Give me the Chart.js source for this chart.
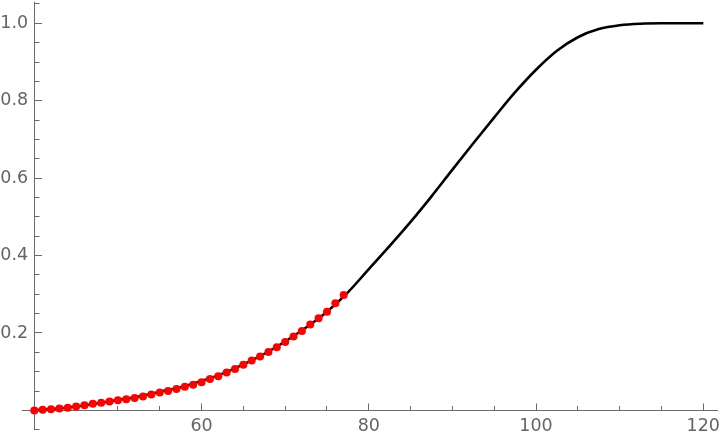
<!DOCTYPE html>
<html><head><meta charset="utf-8">
<script src="https://cdn.jsdelivr.net/npm/chart.js@4"></script>
<style>html,body{margin:0;padding:0;background:#fff;} #wrap{width:720px;height:440px;position:relative;}</style>
</head><body><div id="wrap"><canvas id="c" width="720" height="440"></canvas></div>
<script>
const curveX = [40, 42.5, 45, 47.5, 50, 52.5, 55, 57.5, 60, 62.5, 65, 67.5, 70, 72.5, 75, 77.5, 80, 82.5, 85, 87.5, 90, 92.5, 95, 97.5, 100, 102.5, 105, 107.5, 110, 112.5, 115, 117.5, 120];
const curveY = [0.000, 0.004, 0.010, 0.018, 0.027, 0.036, 0.048, 0.060, 0.076, 0.095, 0.119, 0.146, 0.178, 0.214, 0.255, 0.305, 0.365, 0.425, 0.487, 0.553, 0.622, 0.690, 0.757, 0.822, 0.880, 0.929, 0.964, 0.985, 0.995, 0.999, 1.000, 1.000, 1.000];
const pointX = [40, 41, 42, 43, 44, 45, 46, 47, 48, 49, 50, 51, 52, 53, 54, 55, 56, 57, 58, 59, 60, 61, 62, 63, 64, 65, 66, 67, 68, 69, 70, 71, 72, 73, 74, 75, 76, 77];
const pointY = [0.000, 0.002, 0.003, 0.005, 0.007, 0.010, 0.013, 0.017, 0.020, 0.023, 0.026, 0.029, 0.032, 0.036, 0.041, 0.046, 0.050, 0.055, 0.061, 0.066, 0.073, 0.081, 0.088, 0.098, 0.107, 0.118, 0.129, 0.139, 0.151, 0.163, 0.177, 0.191, 0.205, 0.222, 0.238, 0.255, 0.277, 0.298];
const xTickValues = [40, 60, 80, 100, 120];
const xTickLabels = ['', '60', '80', '100', '120'];
const xMinorTicks = [45, 50, 55, 65, 70, 75, 85, 90, 95, 105, 110, 115];
const yTickValues = [0, 0.2, 0.4, 0.6, 0.8, 1.0];
const yTickLabels = ['', '0.2', '0.4', '0.6', '0.8', '1.0'];
const yMinorTicks = [-0.05, 0.05, 0.1, 0.15, 0.25, 0.3, 0.35, 0.45, 0.5, 0.55, 0.65, 0.7, 0.75, 0.85, 0.9, 0.95, 1.05];
const xAxisExtent = [38.5, 121.76];
const yAxisExtent = [-0.051, 1.056];

const AXIS_COLOR = '#6a6a6a';
const axesPlugin = {
  id: 'mAxes',
  beforeDatasetsDraw(chart) {
    const {ctx, scales: {x, y}} = chart;
    const X = v => Math.floor(x.getPixelForValue(v)) + 0.5;
    const Y = v => Math.floor(y.getPixelForValue(v)) + 0.5;
    const x0 = X(40), y0 = Y(0);
    ctx.save();
    ctx.strokeStyle = AXIS_COLOR;
    ctx.lineWidth = 1;
    ctx.beginPath();
    ctx.moveTo(x.getPixelForValue(xAxisExtent[0]), y0); ctx.lineTo(x.getPixelForValue(xAxisExtent[1]), y0);
    ctx.moveTo(x0, y.getPixelForValue(yAxisExtent[1])); ctx.lineTo(x0, y.getPixelForValue(yAxisExtent[0]));
    xTickValues.forEach(v => { ctx.moveTo(X(v), y0); ctx.lineTo(X(v), y0 - 7); });
    xMinorTicks.forEach(v => { ctx.moveTo(X(v), y0); ctx.lineTo(X(v), y0 - 4.5); });
    yTickValues.forEach(v => { ctx.moveTo(x0, Y(v)); ctx.lineTo(x0 + 7.5, Y(v)); });
    yMinorTicks.forEach(v => { ctx.moveTo(x0, Y(v)); ctx.lineTo(x0 + 5, Y(v)); });
    ctx.stroke();
    ctx.restore();
  }
};

const tickFont = {family: 'DejaVu Sans', size: 17.5};
new Chart(document.getElementById('c'), {
  type: 'scatter',
  data: {
    datasets: [
      {data: pointX.map((v, i) => ({x: v, y: pointY[i]})), pointRadius: 4, pointHoverRadius: 4, backgroundColor: '#ff0000', borderWidth: 0, showLine: false, clip: false},
      {data: curveX.map((v, i) => ({x: v, y: curveY[i]})), showLine: true, pointRadius: 0, borderColor: '#000', borderWidth: 2.6, cubicInterpolationMode: 'monotone', fill: false, clip: false}
    ]
  },
  options: {
    responsive: false, animation: false, devicePixelRatio: 1,
    layout: {autoPadding: false, padding: {left: 0, top: 12, right: 2, bottom: 0}},
    plugins: {legend: {display: false}, tooltip: {enabled: false}},
    scales: {
      x: {type: 'linear', position: 'bottom', min: 40, max: 121.758,
        grid: {display: false, drawTicks: true, tickLength: 6}, border: {display: false},
        afterFit: s => { s.height = 29.6; s.paddingLeft = 0; s.paddingRight = 0; },
        afterBuildTicks: s => { s.ticks = xTickValues.map(v => ({value: v})); },
        ticks: {autoSkip: false, maxRotation: 0, font: tickFont, color: '#646464', padding: 0,
          callback: (v, i) => xTickLabels[i]}},
      y: {type: 'linear', position: 'left', min: 0, max: 1.0292,
        grid: {display: false, drawTicks: true, tickLength: 6.1}, border: {display: false},
        afterFit: s => { s.width = 34.3; s.paddingTop = 0; s.paddingBottom = 0; },
        afterBuildTicks: s => { s.ticks = yTickValues.map(v => ({value: v})); },
        ticks: {autoSkip: false, font: tickFont, color: '#646464', padding: 0,
          callback: (v, i) => yTickLabels[i]}}
    }
  },
  plugins: [axesPlugin]
});
</script>
</body></html>
